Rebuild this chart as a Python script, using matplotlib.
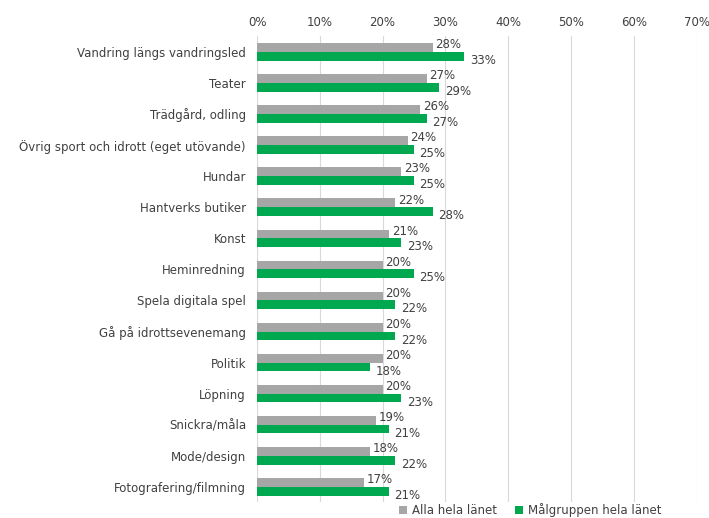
import numpy as np
import matplotlib.pyplot as plt

kategorier = ['Vandring längs vandringsled', 'Teater', 'Trädgård, odling',
              'Övrig sport och idrott (eget utövande)', 'Hundar', 'Hantverks butiker',
              'Konst', 'Heminredning', 'Spela digitala spel', 'Gå på idrottsevenemang',
              'Politik', 'Löpning', 'Snickra/måla', 'Mode/design', 'Fotografering/filmning']
alla = [28, 27, 26, 24, 23, 22, 21, 20, 20, 20, 20, 20, 19, 18, 17]
malgrupp = [33, 29, 27, 25, 25, 28, 23, 25, 22, 22, 18, 23, 21, 22, 21]
xticks = [0, 10, 20, 30, 40, 50, 60, 70]

grey = '#a6a6a6'
green = '#00a84f'
txt = '#404040'

plt.rcParams['font.family'] = 'DejaVu Sans'

fig = plt.figure(figsize=(7.09, 5.18), dpi=100)
ax = fig.add_axes([0.3625, 0.03, 0.62, 0.9])

y = np.arange(len(kategorier))
h = 0.28
ax.barh(y - h / 2, alla, height=h, color=grey, label='Alla hela länet', zorder=2)
ax.barh(y + h / 2, malgrupp, height=h, color=green, label='Målgruppen hela länet', zorder=2)

for i in range(len(kategorier)):
    ax.annotate(f'{alla[i]}%', (alla[i], i - h / 2), xytext=(2, 2), textcoords='offset points',
                ha='left', va='center', fontsize=8.5, color=txt)
    ax.annotate(f'{malgrupp[i]}%', (malgrupp[i], i + h / 2), xytext=(4, -3), textcoords='offset points',
                ha='left', va='center', fontsize=8.5, color=txt)

ax.set_xlim(0, 70)
ax.set_ylim(len(kategorier) - 0.5, -0.5)
ax.set_xticks(xticks)
ax.set_xticklabels([f'{t}%' for t in xticks])
ax.xaxis.tick_top()
ax.set_yticks(y)
ax.set_yticklabels(kategorier)
ax.tick_params(axis='both', length=0, labelsize=8.5, colors=txt)
ax.tick_params(axis='x', pad=5)
ax.tick_params(axis='y', pad=8)
ax.grid(axis='x', color='#d9d9d9', linewidth=0.8, zorder=0)
for s in ax.spines.values():
    s.set_visible(False)
ax.axvline(0, color='#d9d9d9', linewidth=0.8, zorder=1)

fig.legend(*ax.get_legend_handles_labels(), loc='center', bbox_to_anchor=(530 / 709, 1 - 510 / 518),
           ncol=2, frameon=False, fontsize=8.5, handlelength=0.7, handleheight=0.7,
           handletextpad=0.4, columnspacing=1.5, labelcolor=txt, borderaxespad=0, borderpad=0)

fig.savefig('out.png', dpi=100)
